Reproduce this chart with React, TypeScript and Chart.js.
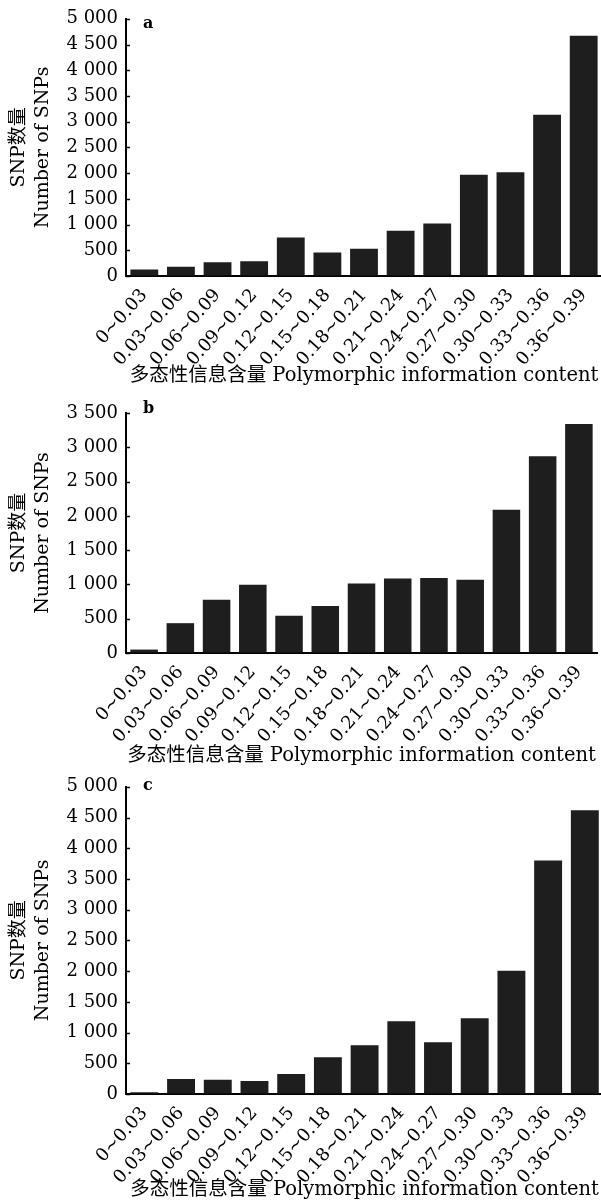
import React, { useEffect, useRef } from 'react';
import { Chart, registerables } from 'chart.js';

Chart.register(...registerables);

// ---------- data ----------
const CATEGORIES = [
  '0~0.03', '0.03~0.06', '0.06~0.09', '0.09~0.12', '0.12~0.15', '0.15~0.18', '0.18~0.21',
  '0.21~0.24', '0.24~0.27', '0.27~0.30', '0.30~0.33', '0.33~0.36', '0.36~0.39',
];
const SERIES_A = [125, 180, 265, 285, 750, 455, 530, 880, 1020, 1970, 2015, 3135, 4670];
const SERIES_B = [50, 435, 775, 995, 545, 685, 1015, 1085, 1095, 1070, 2090, 2870, 3340];
const SERIES_C = [30, 243, 232, 210, 325, 598, 792, 1186, 841, 1234, 2005, 3800, 4620];
const Y_MAX = [5000, 3500, 5000];
const Y_STEP = 500;
const PANEL_LETTERS = ['a', 'b', 'c'];
const Y_TITLE = ['SNP数量', 'Number of SNPs'];
const X_TITLE = '多态性信息含量 Polymorphic information content';

// ---------- layout / style ----------
const FONT = '"DejaVu Serif", "Noto Sans CJK SC", serif';
const CANVAS_W = 610;
const Y_AXIS_X = 126;
const X_TITLE_LH = 24;
const PANELS = [
  { top: 0, chartTop: 16, chartBottom: 276, chartRight: 602, titleY: 376, letterDy: 9 },
  { top: 388, chartTop: 413, chartBottom: 653, chartRight: 597, titleY: 756, letterDy: 0 },
  { top: 768, chartTop: 785, chartBottom: 1094, chartRight: 607, titleY: 1190, letterDy: 3 },
];

function fmt(v: number): string {
  return String(v).replace(/\B(?=(\d{3})+(?!\d))/g, ' ');
}

function Panel({ cfg, values, yMax, letter }: any) {
  const ref = useRef<HTMLCanvasElement | null>(null);
  const height = cfg.titleY + X_TITLE_LH / 2 - cfg.top;

  useEffect(() => {
    if (!ref.current) return;
    const extras = {
      id: 'panelExtras',
      afterDraw(chart: any) {
        const { ctx, chartArea, scales } = chart;
        const y = scales.y;
        ctx.save();
        ctx.strokeStyle = '#000';
        ctx.lineWidth = 1.5;
        y.ticks.forEach((t: any) => {
          const py = Math.round(y.getPixelForValue(t.value)) + 0.5;
          ctx.beginPath();
          ctx.moveTo(chartArea.left, py);
          ctx.lineTo(chartArea.left + 4, py);
          ctx.stroke();
        });
        ctx.fillStyle = '#000';
        ctx.font = `bold 16px ${FONT}`;
        ctx.textAlign = 'left';
        ctx.textBaseline = 'alphabetic';
        ctx.fillText(letter, chartArea.left + 17, chartArea.top + cfg.letterDy);
        ctx.restore();
      },
    };

    const chart = new Chart(ref.current, {
      type: 'bar',
      data: {
        labels: CATEGORIES,
        datasets: [
          {
            data: values,
            backgroundColor: '#1e1e1e',
            borderWidth: 0,
            barPercentage: 0.76,
            categoryPercentage: 1,
          },
        ],
      },
      options: {
        animation: false,
        responsive: false,
        devicePixelRatio: 1,
        layout: {
          padding: {
            top: cfg.chartTop - cfg.top,
            right: CANVAS_W - cfg.chartRight,
            left: 0,
            bottom: 0,
          },
        },
        plugins: { legend: { display: false }, tooltip: { enabled: false } },
        scales: {
          x: {
            grid: { display: true, drawOnChartArea: false, drawTicks: false },
            border: { display: true, color: '#000', width: 2 },
            ticks: {
              autoSkip: false,
              maxRotation: 48,
              minRotation: 48,
              padding: 9,
              color: '#000',
              font: { family: FONT, size: 18 },
            },
            title: {
              display: true,
              text: X_TITLE,
              color: '#000',
              padding: 0,
              font: { family: FONT, size: 19.5, lineHeight: X_TITLE_LH / 19.5 },
            },
            afterFit: (s: any) => {
              s.height = cfg.titleY + X_TITLE_LH / 2 - cfg.chartBottom;
            },
          },
          y: {
            min: 0,
            max: yMax,
            ticks: {
              stepSize: Y_STEP,
              padding: 8,
              color: '#000',
              font: { family: FONT, size: 18 },
              callback: (v: any) => fmt(Number(v)),
            },
            grid: { display: true, drawOnChartArea: false, drawTicks: false },
            border: { display: true, color: '#000', width: 2 },
            title: {
              display: true,
              text: Y_TITLE,
              color: '#000',
              padding: { top: 7, bottom: 0 },
              font: { family: FONT, size: 19, lineHeight: 24 / 19 },
            },
            afterFit: (s: any) => {
              s.width = Y_AXIS_X;
            },
          },
        },
      } as any,
      plugins: [extras],
    });
    return () => chart.destroy();
  }, []);

  return (
    <canvas
      ref={ref}
      width={CANVAS_W}
      height={height}
      style={{ position: 'absolute', left: 0, top: cfg.top, width: CANVAS_W, height }}
    />
  );
}

export default function App() {
  const series = [SERIES_A, SERIES_B, SERIES_C];
  return (
    <div
      style={{
        position: 'absolute',
        left: 0,
        top: 0,
        width: 601,
        height: 1203,
        overflow: 'hidden',
        background: '#fff',
      }}
    >
      {PANELS.map((cfg, i) => (
        <Panel key={i} cfg={cfg} values={series[i]} yMax={Y_MAX[i]} letter={PANEL_LETTERS[i]} />
      ))}
    </div>
  );
}
